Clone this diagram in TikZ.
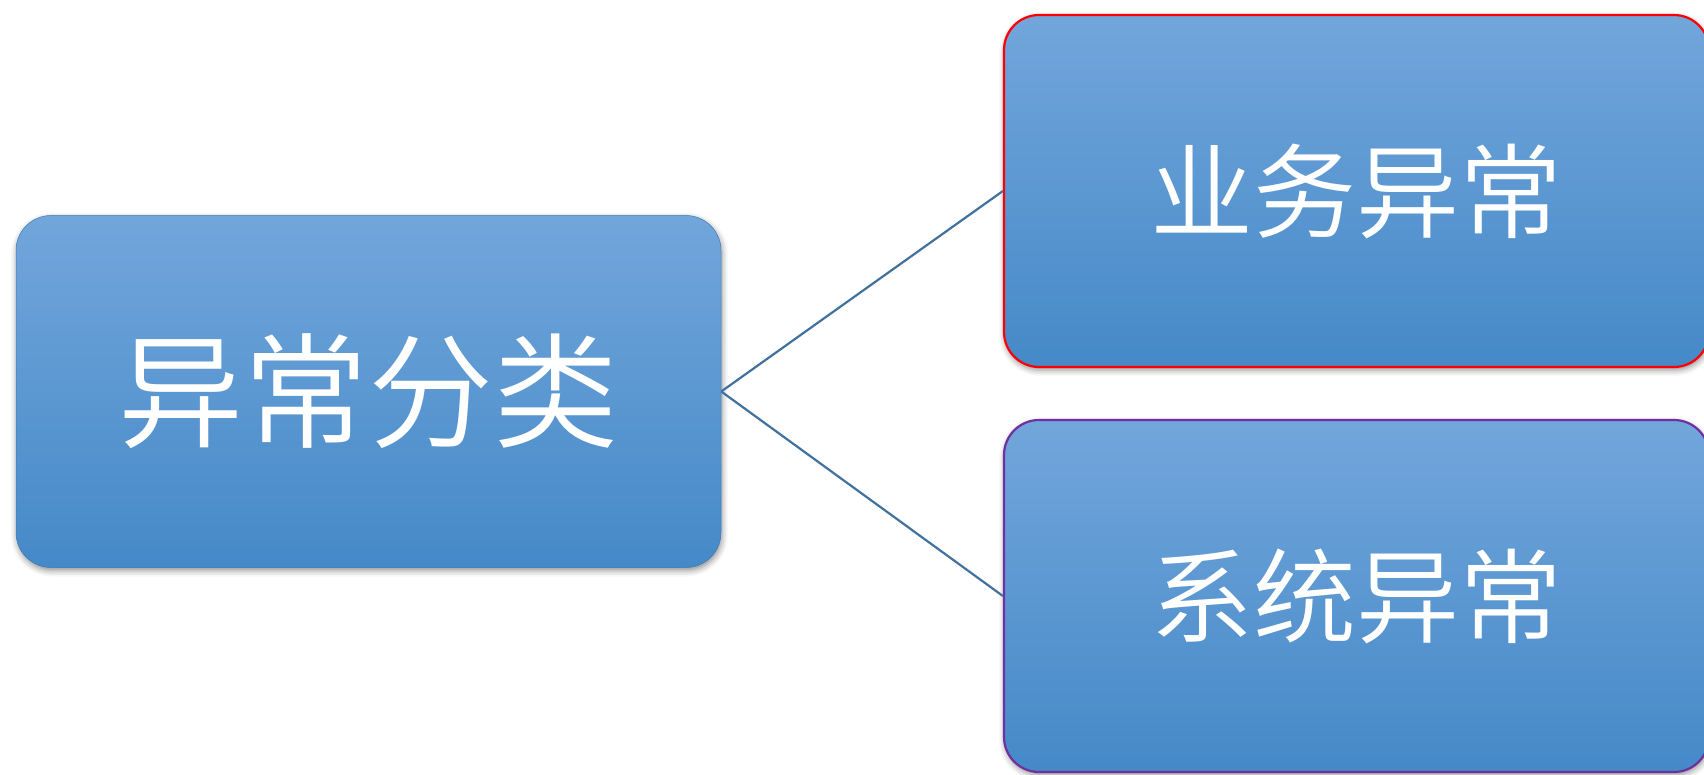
\documentclass[tikz,border=0pt]{standalone}
\usepackage{fontspec}
\IfFontExistsTF{Noto Sans CJK SC DemiLight}
  {\newfontfamily\cjk{Noto Sans CJK SC DemiLight}}
  {\IfFontExistsTF{Noto Sans CJK SC Light}
    {\newfontfamily\cjk{Noto Sans CJK SC Light}}
    {\newfontfamily\cjk{Noto Sans CJK SC}}}
\usetikzlibrary{shadows.blur}
\definecolor{boxtop}{RGB}{114,166,219}
\definecolor{boxbot}{RGB}{69,137,200}
\definecolor{linkc}{RGB}{65,113,156}
\definecolor{redb}{RGB}{255,0,0}
\definecolor{purpb}{RGB}{112,48,160}
\tikzset{
  catbox/.style={rectangle, rounded corners=35pt, minimum width=705pt, minimum height=352pt,
    top color=boxtop, bottom color=boxbot, text=white, inner sep=0pt,
    blur shadow={shadow xshift=1pt, shadow yshift=-3pt, shadow blur radius=6pt, shadow opacity=45}},
  link/.style={draw=linkc, line width=2.2pt},
}
\begin{document}
\begin{tikzpicture}[x=1pt,y=-1pt]
\useasboundingbox (0,0) rectangle (1704,775);
\clip (0,0) rectangle (1704,775);
\node[catbox, draw=boxbot!90!black, line width=0.5pt, font={\cjk\fontsize{125}{130}\selectfont}] (root) at (368.5,391.5) {异常分类};
\node[catbox, draw=redb, line width=2.2pt, font={\cjk\fontsize{103}{110}\selectfont}] (biz) at (1356.5,191) {业务异常};
\node[catbox, draw=purpb, line width=2.2pt, font={\cjk\fontsize{103}{110}\selectfont}] (sys) at (1356.5,596) {系统异常};
\draw[link] (root.east) -- (biz.west);
\draw[link] (root.east) -- (sys.west);
\end{tikzpicture}
\end{document}
